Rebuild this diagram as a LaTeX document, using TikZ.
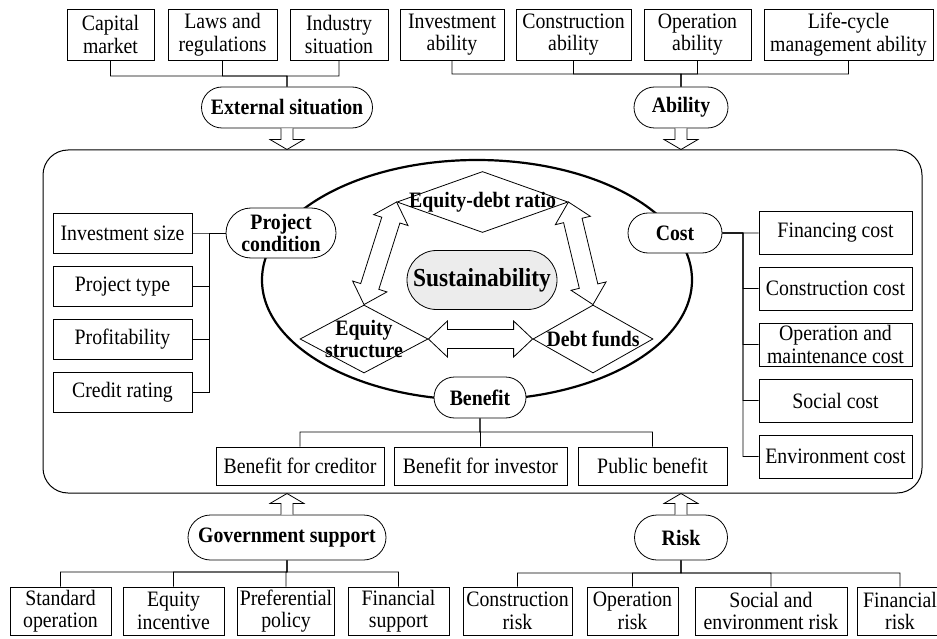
\documentclass[tikz,border=0pt]{standalone}
\usepackage{fontspec}
\setmainfont{Liberation Serif}[FakeStretch=0.9]
\usetikzlibrary{shapes.geometric,shapes.misc}

% hollow arrow, head at the second point
\newcommand\oneway[2]{%
  \path (#1) coordinate (hwa) (#2) coordinate (hwb);
  \pgfpointdiff{\pgfpointanchor{hwa}{center}}{\pgfpointanchor{hwb}{center}}%
  \pgfgetlastxy\hwx\hwy
  \pgfmathsetmacro\hwang{atan2(\hwy,\hwx)}%
  \pgfmathsetmacro\hwlen{veclen(\hwx,\hwy)}%
  \begin{scope}[shift={(hwa)},rotate=\hwang,x=1pt,y=1pt]
    \draw[line width=0.8pt,fill=white] (0,-6) -- (\hwlen-10,-6) -- (\hwlen-10,-17) -- (\hwlen,0)
      -- (\hwlen-10,17) -- (\hwlen-10,6) -- (0,6);
  \end{scope}}

% hollow arrow, heads at both points
\newcommand\twoway[2]{%
  \path (#1) coordinate (hwa) (#2) coordinate (hwb);
  \pgfpointdiff{\pgfpointanchor{hwa}{center}}{\pgfpointanchor{hwb}{center}}%
  \pgfgetlastxy\hwx\hwy
  \pgfmathsetmacro\hwang{atan2(\hwy,\hwx)}%
  \pgfmathsetmacro\hwlen{veclen(\hwx,\hwy)}%
  \begin{scope}[shift={(hwa)},rotate=\hwang,x=1pt,y=1pt]
    \draw[line width=0.8pt,fill=white] (0,0) -- (19,18) -- (19,9.5) -- (\hwlen-19,9.5) -- (\hwlen-19,18)
      -- (\hwlen,0) -- (\hwlen-19,-18) -- (\hwlen-19,-9.5) -- (19,-9.5) -- (19,-18) -- cycle;
  \end{scope}}

\begin{document}
\fontsize{22}{22.5}\selectfont
\begin{tikzpicture}
    [%%%%%%%%%%%%%%%%%%%%%%%%%%%%%%
        x=1pt, y=-1pt,
        box/.style={rectangle,draw=black,line width=0.8pt,align=center,inner sep=1pt},
        pill/.style={rounded rectangle,draw=black,line width=0.8pt,fill=white,align=center,inner sep=1pt,font=\bfseries},
        dia/.style={diamond,draw=black,line width=0.8pt,inner sep=0pt},
        link/.style={draw=black,line width=0.8pt},
    ]%%%%%%%%%%%%%%%%%%%%%%%%%%%%%%

\useasboundingbox (0,0) rectangle (937,639);

% frame and ellipse
\node[draw=black,line width=1pt,rounded corners=25pt,minimum width=879pt,minimum height=343pt] (frame) at (482.5,321.5) {};
\draw[line width=2.2pt] (477,280) ellipse [x radius=215pt, y radius=120pt];

% top row
\node[box,minimum width=87pt,minimum height=51pt] (cap) at (110.5,34.5) {Capital\\market};
\node[box,minimum width=109pt,minimum height=51pt] (law) at (222.5,34.5) {Laws and\\regulations};
\node[box,minimum width=98pt,minimum height=51pt] (ind) at (339,34.5) {Industry\\situation};
\node[box,minimum width=104pt,minimum height=51pt] (inv) at (452,34.5) {Investment\\ability};
\node[box,minimum width=115pt,minimum height=51pt] (con) at (573.5,34.5) {Construction\\ability};
\node[box,minimum width=107pt,minimum height=51pt] (ope) at (697.5,34.5) {Operation\\ability};
\node[box,minimum width=169pt,minimum height=51pt] (life) at (848.5,34.5) {Life-cycle\\management ability};

% factors
\node[pill,minimum width=173pt,minimum height=41pt] (ext) at (287,107.5) {External situation};
\node[pill,minimum width=96pt,minimum height=41pt] (abi) at (681,107.5) {Ability};
\node[pill,minimum width=112pt,minimum height=50pt] (pc) at (281,233) {Project\\condition};
\node[pill,minimum width=96pt,minimum height=40pt] (cost) at (675,233) {Cost};
\node[pill,minimum width=94pt,minimum height=41pt] (ben) at (480,397.5) {Benefit};
\node[pill,minimum width=200pt,minimum height=45pt] (gov) at (287,537.5) {Government support};
\node[pill,minimum width=95pt,minimum height=45pt] (risk) at (681,537.5) {Risk};
\node[pill,fill=gray!15,minimum width=152pt,minimum height=59pt,font=\fontsize{26}{28}\selectfont\bfseries] (sus) at (482,280) {Sustainability};

% capital structure
\node[dia,minimum width=171pt,minimum height=61pt,label={[font=\bfseries]center:Equity-debt ratio}] (edr) at (482.5,202) {};
\node[dia,minimum width=128pt,minimum height=68pt,label={[font=\bfseries,align=center]center:{Equity\\structure}}] (es) at (364,339) {};
\node[dia,minimum width=120pt,minimum height=68pt,label={[font=\bfseries]center:Debt funds}] (df) at (593,339) {};

\twoway{edr.west}{es.north}
\twoway{edr.east}{df.north}
\twoway{es.east}{df.west}

\oneway{ext.south}{ext.south |- frame.north}
\oneway{abi.south}{abi.south |- frame.north}
\oneway{gov.north}{gov.north |- frame.south}
\oneway{risk.north}{risk.north |- frame.south}

% side columns
\foreach \y/\t/\n in {233/Investment size/is,286.5/Project type/ptype,339.5/Profitability/prof,392.5/Credit rating/cred}
    \node[box,minimum width=139pt,minimum height=40pt] (\n) at (122.5,\y) {\t};
\foreach \y/\t/\n in {233/Financing cost/fc,288.5/Construction cost/cc,344.5/{Operation and\\maintenance cost}/omc,400.5/Social cost/sc,456.5/Environment cost/ec}
    \node[box,minimum width=153pt,minimum height=43pt] (\n) at (835.5,\y) {\t};

% benefits
\node[box,minimum width=168pt,minimum height=38pt] (bcr) at (300,466) {Benefit for creditor};
\node[box,minimum width=173pt,minimum height=38pt] (binv) at (480.5,466) {Benefit for investor};
\node[box,minimum width=149pt,minimum height=38pt] (pub) at (652.5,466) {Public benefit};

% bottom row
\foreach \x/\w/\t/\n in {60.5/101/{Standard\\operation}/so,173.5/101/{Equity\\incentive}/ei,286/97/{Preferential\\policy}/pp,398.5/101/{Financial\\support}/fs,
                         517.5/109/{Construction\\risk}/crk,632.5/91/{Operation\\risk}/ork,771/152/{Social and\\environment risk}/srk,900/86/{Financial\\risk}/frk}
    \node[box,minimum width=\w,minimum height=48pt] (\n) at (\x,611) {\t};

% connectors
\coordinate (extbus) at (287,76);
\foreach \n in {cap,law,ind} \draw[link] (\n.south) |- (extbus) -- (ext);
\coordinate (abibus) at (681,74);
\foreach \n in {inv,con,ope,life} \draw[link] (\n.south) |- (abibus) -- (abi);
\coordinate (pcbus) at (209,233);
\foreach \n in {is,ptype,prof,cred} \draw[link] (\n.east) -| (pcbus) -- (pc);
\coordinate (costbus) at (743,233);
\foreach \n in {fc,cc,omc,sc,ec} \draw[link] (\n.west) -| (costbus) -- (cost);
\coordinate (benbus) at (480,432);
\foreach \n in {bcr,binv,pub} \draw[link] (\n.north) |- (benbus) -- (ben);
\coordinate (govbus) at (287,572);
\foreach \n in {so,ei,pp,fs} \draw[link] (\n.north) |- (govbus) -- (gov);
\coordinate (riskbus) at (681,573);
\foreach \n in {crk,ork,srk,frk} \draw[link] (\n.north) |- (riskbus) -- (risk);
\end{tikzpicture}
\end{document}
